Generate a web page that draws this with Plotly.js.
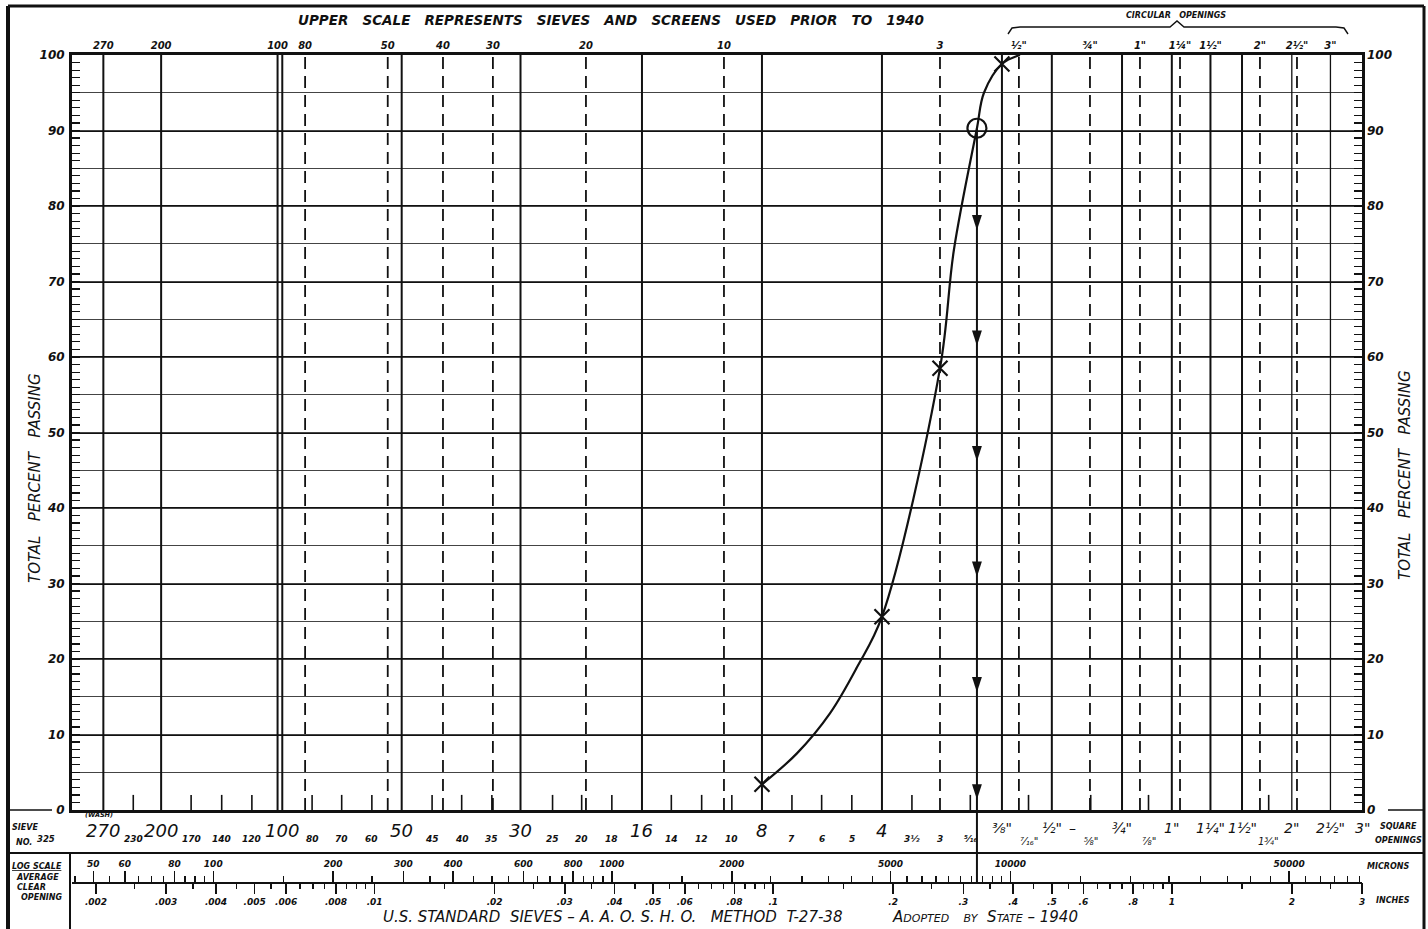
<!DOCTYPE html>
<html><head><meta charset="utf-8">
<script src="https://cdn.plot.ly/plotly-3.0.1.min.js"></script>
<style>html,body{margin:0;padding:0;background:#fff}</style>
</head><body><div id="chart" style="width:1428px;height:929px"></div>
<script>
// ================= DATA (sizes in microns, passing in %) =================
// grading curve as drawn
const curveSizeMicrons    = [2380, 2913, 3525, 4120, 4760, 6656, 7214, 8240, 8582, 9520, 10567];
const curvePercentPassing = [3.4, 7.5, 12.8, 18.9, 25.6, 58.5, 74.2, 90.3, 95.0, 98.8, 100];
// plotted test points
const crossSizes   = [2380, 4760, 6656, 9520];
const crossPassing = [3.4, 25.6, 58.5, 98.8];
const circleSizes   = [8240];
const circlePassing = [90.3];
const arrowSize   = 8240;
const arrowLevels = [76.8, 61.5, 46.2, 30.9, 15.6, 1.4, -9.4];

// sieve grid lines
const solidSieveLines  = [53, 74, 145, 149, 297, 590, 1190, 2380, 4760, 9520, 12700, 19050, 25400, 31750, 38100];
const thinSieveLines   = [50800, 63500];
const dashedSieveLines = [170, 274, 377, 503, 861, 1911, 6656, 10500, 15830, 21130, 26630, 42260, 52340];
const shortSieveTicks  = [63, 88, 105, 125, 177, 210, 250, 354, 420, 500, 710, 840, 1000, 1410, 1680, 2000,
                          2830, 3360, 4000, 5660, 7930, 11100, 15900, 22200, 44450];

// upper scale (prior to 1940) labels
const upperScaleSizes = [53, 74, 145, 170, 274, 377, 503, 861, 1911, 6656, 10500, 15830, 21130, 26630, 31750, 42260, 52340, 63500];
const upperScaleText  = ['270','200','100','80','50','40','30','20','10','3','½"','¾"','1"','1¼"','1½"','2"','2½"','3"'];

// lower scale: U.S. standard sieve numbers
const mainSieveSizes = [53, 74, 149, 297, 590, 1190, 2380, 4760];
const mainSieveText  = ['270','200','100','50','30','16','8','4'];
const minorSieveSizes = [63, 88, 105, 125, 177, 210, 250, 354, 420, 500, 710, 840, 1000, 1410, 1680, 2000, 2830, 3360, 4000, 5660, 6656, 7930];
const minorSieveText  = ['230','170','140','120','80','70','60','45','40','35','25','20','18','14','12','10','7','6','5','3½','3','⁵⁄₁₆'];
const firstSieveSize = 45, firstSieveText = '325';
// square openings
const squareMainSizes = [9520, 12700, 14300, 19050, 25400, 31750, 38100, 50800, 63500, 76200];
const squareMainText  = ['⅜"', '½"', '–', '¾"', '1"', '1¼"', '1½"', '2"', '2½"', '3"'];
const squareSmallSizes = [11100, 15900, 22200, 44450];
const squareSmallText  = ['⁷⁄₁₆"', '⅝"', '⅞"', '1¾"'];

// log scale: microns (above) and inches (below)
const micronMajor = [50, 60, 80, 100, 200, 300, 400, 600, 800, 1000, 2000, 5000, 10000, 50000];
const micronMinor = [45,55,65,70,75,85,90,95,150,250,350,450,500,550,650,700,750,850,900,950,
                     1500,2500,3000,3500,4000,4500,5500,6000,6500,7000,7500,8000,8500,9000,9500,
                     15000,20000,25000,30000,35000,40000,45000,55000,60000,65000,70000,75000];
const inchMajor = [.002,.003,.004,.005,.006,.008,.01,.02,.03,.04,.05,.06,.08,.1,.2,.3,.4,.5,.6,.8,1,2,3];
const inchMajorText = ['.002','.003','.004','.005','.006','.008','.01','.02','.03','.04','.05','.06','.08','.1','.2','.3','.4','.5','.6','.8','1','2','3'];
const inchMinor = [.0025,.0035,.0045,.0055,.0065,.007,.0075,.0085,.009,.0095,.015,.025,.035,.045,.055,.065,.07,.075,.085,.09,.095,
                   .15,.25,.35,.45,.55,.65,.7,.75,.85,.9,.95,1.5,2.5];
const MICRONS_PER_INCH = 25400;

// ================= LAYOUT GEOMETRY =================
const W = 1428, H = 929, ML = 72, MR = 66, MT = 55, MB = 0;
const PW = W - ML - MR, PH = H - MT - MB;
const PLOT_BOTTOM = 810;
const px = v => (v - ML) / PW;        // pixel x -> paper
const py = v => (H - MB - v) / PH;    // pixel y -> paper
const yDomain0 = py(PLOT_BOTTOM);
const logLineY = py(882);
const xRange = [Math.log10(76200) - PW / 398.6, Math.log10(76200)];
const F = 'DejaVu Sans, Verdana, sans-serif';
const INK = '#111';

function vlines(vals, y0, y1) {
  const x = [], y = [];
  vals.forEach(v => { x.push(v, v, null); y.push(y0, y1, null); });
  return {x, y};
}

const traces = [];
const sl = vlines(solidSieveLines, 0, 100);
traces.push({x: sl.x, y: sl.y, mode: 'lines', line: {color: INK, width: 2}, hoverinfo: 'skip'});
const tl = vlines(thinSieveLines, 0, 100);
traces.push({x: tl.x, y: tl.y, mode: 'lines', line: {color: INK, width: 1.3}, hoverinfo: 'skip'});
const dl = vlines(dashedSieveLines, 0, 100);
traces.push({x: dl.x, y: dl.y, mode: 'lines', line: {color: INK, width: 1.8, dash: '12px,7px'}, hoverinfo: 'skip'});
const st = vlines(shortSieveTicks, 0, 2);
traces.push({x: st.x, y: st.y, mode: 'lines', line: {color: INK, width: 1.6}, hoverinfo: 'skip'});
// arrow line
traces.push({x: [arrowSize, arrowSize], y: [circlePassing[0], 0], mode: 'lines', line: {color: INK, width: 2}, hoverinfo: 'skip'});
// grading curve
traces.push({x: curveSizeMicrons, y: curvePercentPassing, mode: 'lines',
  line: {color: INK, width: 2.2, shape: 'spline', smoothing: 1}, hoverinfo: 'skip'});
traces.push({x: crossSizes, y: crossPassing, mode: 'markers',
  marker: {symbol: 'x-thin-open', size: 15, color: INK, line: {color: INK, width: 2.2}}, hoverinfo: 'skip'});
traces.push({x: circleSizes, y: circlePassing, mode: 'markers',
  marker: {symbol: 'circle-open', size: 19, color: INK, line: {color: INK, width: 2.2}}, hoverinfo: 'skip'});
traces.push({x: arrowLevels.map(() => arrowSize), y: arrowLevels, mode: 'markers', cliponaxis: false,
  marker: {symbol: 'arrow', angle: 180, size: 16, color: INK, line: {width: 0}}, hoverinfo: 'skip'});
// dummy traces so the extra axes exist
[['x2','y'],['x3','y'],['x4','y'],['x','y2'],['x','y3']].forEach(([xa, ya]) =>
  traces.push({x: [], y: [], xaxis: xa, yaxis: ya, mode: 'markers', hoverinfo: 'skip', showlegend: false}));

const tickFontSmall = {family: F, size: 9, color: INK, weight: 'bold', style: 'italic'};
const yFont = {family: F, size: 12, color: INK, weight: 'bold', style: 'italic'};

const annotations = [];
function addAnn(o) { annotations.push(Object.assign({showarrow: false, xanchor: 'center', yanchor: 'middle'}, o)); }

// lower sieve labels
mainSieveSizes.forEach((s, i) => addAnn({x: Math.log10(s), xref: 'x', y: py(830), yref: 'paper', text: mainSieveText[i],
  font: {family: F, size: 18, color: INK, style: 'italic'}}));
minorSieveSizes.forEach((s, i) => addAnn({x: Math.log10(s), xref: 'x', y: py(839), yref: 'paper', text: minorSieveText[i],
  font: {family: F, size: 9, color: INK, weight: 'bold', style: 'italic'}}));
addAnn({x: Math.log10(firstSieveSize), xref: 'x', xshift: -29, y: py(839), yref: 'paper', text: firstSieveText,
  font: {family: F, size: 8.5, color: INK, weight: 'bold', style: 'italic'}});
addAnn({x: Math.log10(mainSieveSizes[0]), xref: 'x', xshift: -4, y: py(815), yref: 'paper', text: '(WASH)',
  font: {family: F, size: 6.5, color: INK, weight: 'bold', style: 'italic'}});
squareMainSizes.forEach((s, i) => addAnn({x: Math.log10(s), xref: 'x', y: py(828), yref: 'paper', text: squareMainText[i],
  font: {family: F, size: 14, color: INK, style: 'italic'}}));
squareSmallSizes.forEach((s, i) => addAnn({x: Math.log10(s), xref: 'x', y: py(841), yref: 'paper', text: squareSmallText[i],
  font: {family: F, size: 10, color: INK, style: 'italic'}}));

const small = {family: F, size: 8, color: INK, weight: 'bold', style: 'italic'};
addAnn({x: px(1398), xref: 'paper', y: py(826), yref: 'paper', text: 'SQUARE', font: small});
addAnn({x: px(1398), xref: 'paper', y: py(840), yref: 'paper', text: 'OPENINGS', font: small});
addAnn({x: px(1388), xref: 'paper', y: py(866), yref: 'paper', text: 'MICRONS', font: small});
addAnn({x: px(1393), xref: 'paper', y: py(900), yref: 'paper', text: 'INCHES', font: small});
addAnn({x: px(25), xref: 'paper', y: py(827), yref: 'paper', text: 'SIEVE', font: small});
addAnn({x: px(24), xref: 'paper', y: py(842), yref: 'paper', text: 'NO.', font: small});
addAnn({x: px(37), xref: 'paper', y: py(866), yref: 'paper', text: '<u>LOG SCALE</u>', font: small});
addAnn({x: px(37), xref: 'paper', y: py(877), yref: 'paper', text: 'AVERAGE', font: small});
addAnn({x: px(31), xref: 'paper', y: py(887), yref: 'paper', text: 'CLEAR', font: small});
addAnn({x: px(41), xref: 'paper', y: py(897), yref: 'paper', text: 'OPENING', font: small});

// titles
const NB = '\u00A0';
addAnn({x: px(611), xref: 'paper', y: py(20), yref: 'paper',
  text: ['UPPER','SCALE','REPRESENTS','SIEVES','AND','SCREENS','USED','PRIOR','TO','1940'].join(NB + NB + NB),
  font: {family: F, size: 13.5, color: INK, weight: 'bold', style: 'italic'}});
addAnn({x: px(1176), xref: 'paper', y: py(16), yref: 'paper', text: 'CIRCULAR' + NB + NB + NB + 'OPENINGS',
  font: {family: F, size: 8, color: INK, weight: 'bold', style: 'italic'}});
addAnn({x: px(612), xref: 'paper', y: py(917), yref: 'paper',
  text: 'U.S.' + NB + 'STANDARD' + NB + NB + 'SIEVES' + NB + '–' + NB + 'A.' + NB + 'A.' + NB + 'O.' + NB + 'S.' + NB + 'H.' + NB + 'O.' + NB + NB + NB + 'METHOD' + NB + NB + 'T-27-38',
  font: {family: F, size: 15, color: INK, style: 'italic'}});
addAnn({x: px(985), xref: 'paper', y: py(917), yref: 'paper',
  text: 'A<span style="font-size:11px">DOPTED</span>' + NB + NB + NB + '<span style="font-size:11px">BY</span>' + NB + NB + 'S<span style="font-size:11px">TATE</span>' + NB + '–' + NB + '1940',
  font: {family: F, size: 15, color: INK, style: 'italic'}});
const yTitleFont = {family: F, size: 15, color: INK, style: 'italic'};
const yTitle = ['TOTAL','PERCENT','PASSING'].join(NB + NB + NB);
addAnn({x: px(35), xref: 'paper', y: py(478), yref: 'paper', text: yTitle, textangle: -90, font: yTitleFont});
addAnn({x: px(1405), xref: 'paper', y: py(475), yref: 'paper', text: yTitle, textangle: -90, font: yTitleFont});

// shapes: frame and separators (decoration, in paper units)
const shapes = [];
const lineShape = (x0, y0, x1, y1, w) => shapes.push({type: 'line', xref: 'paper', yref: 'paper',
  x0: px(x0), y0: py(y0), x1: px(x1), y1: py(y1), line: {color: INK, width: w}});
lineShape(8, 6, 1424, 6, 3);
lineShape(8, 6, 8, 929, 4);
lineShape(1424, 6, 1424, 929, 3);
lineShape(8, 853, 1424, 853, 2);
lineShape(70, 853, 70, 929, 2);
lineShape(10, 810, 52, 810, 1.5);
lineShape(1388, 810, 1424, 810, 1.5);
// brace over circular openings
const bp = [[1008,34],[1012,28],[1020,27],[1170,27],[1177,21],[1184,27],[1336,27],[1344,28],[1348,34]];
shapes.push({type: 'path', xref: 'paper', yref: 'paper', line: {color: INK, width: 1.4},
  path: 'M' + bp.map(p => px(p[0]) + ',' + py(p[1])).join(' L')});

// arrow continuation below the plot (into log scale)
annotations.push({x: Math.log10(arrowSize), xref: 'x', y: logLineY, yref: 'paper', text: '', showarrow: true,
  arrowhead: 0, arrowwidth: 2, arrowcolor: INK, axref: 'pixel', ayref: 'pixel', ax: 0, ay: -(882 - PLOT_BOTTOM), standoff: 0});

const baseLogAxis = {type: 'log', range: xRange, overlaying: 'x', showgrid: false, zeroline: false, fixedrange: true};

const layout = {
  width: W, height: H,
  margin: {l: ML, r: MR, t: MT, b: MB, pad: 0},
  paper_bgcolor: '#fff', plot_bgcolor: '#fff',
  showlegend: false,
  xaxis: {type: 'log', range: xRange, domain: [0, 1], anchor: 'y', showgrid: false, zeroline: false,
    showticklabels: false, ticks: '', showline: true, linecolor: INK, linewidth: 3, mirror: true},
  xaxis2: Object.assign({}, baseLogAxis, {anchor: 'free', position: logLineY, side: 'top',
    showline: true, linecolor: INK, linewidth: 1.5,
    tickmode: 'array', tickvals: micronMajor, ticktext: micronMajor.map(String),
    ticks: 'outside', ticklen: 11, tickwidth: 1.5, tickcolor: INK, tickfont: tickFontSmall,
    minor: {tickmode: 'array', tickvals: micronMinor, ticks: 'outside', ticklen: 6, tickwidth: 1.3, tickcolor: INK, showgrid: false}}),
  xaxis3: Object.assign({}, baseLogAxis, {anchor: 'free', position: logLineY, side: 'bottom',
    showline: false,
    tickmode: 'array', tickvals: inchMajor.map(v => v * MICRONS_PER_INCH), ticktext: inchMajorText,
    ticks: 'outside', ticklen: 11, tickwidth: 1.5, tickcolor: INK, tickfont: tickFontSmall,
    minor: {tickmode: 'array', tickvals: inchMinor.map(v => v * MICRONS_PER_INCH), ticks: 'outside', ticklen: 6, tickwidth: 1.3, tickcolor: INK, showgrid: false}}),
  xaxis4: Object.assign({}, baseLogAxis, {anchor: 'y', side: 'top', showline: false, ticks: '',
    tickmode: 'array', tickvals: upperScaleSizes, ticktext: upperScaleText, ticklabelstandoff: 3,
    tickfont: {family: F, size: 10, color: INK, weight: 'bold', style: 'italic'}}),
  yaxis: {domain: [yDomain0, 1], range: [0, 100], anchor: 'x', tickmode: 'linear', tick0: 0, dtick: 10,
    ticks: 'inside', ticklen: 8, tickwidth: 1.4, tickcolor: INK, showgrid: true, gridcolor: INK, gridwidth: 2,
    zeroline: false, showline: true, linecolor: INK, linewidth: 3, mirror: 'ticks',
    minor: {dtick: 1, ticks: 'inside', ticklen: 8, tickwidth: 1.2, tickcolor: INK, showgrid: false},
    tickfont: yFont, ticklabelstandoff: 2, fixedrange: true},
  yaxis2: {domain: [yDomain0, 1], range: [0, 100], overlaying: 'y', anchor: 'x', side: 'left', tickmode: 'linear', tick0: 0, dtick: 5,
    showticklabels: false, ticks: '', showgrid: true, gridcolor: '#444', gridwidth: 1, zeroline: false, showline: false},
  yaxis3: {domain: [yDomain0, 1], range: [0, 100], overlaying: 'y', anchor: 'x', side: 'right', tickmode: 'linear', tick0: 0, dtick: 10,
    ticks: '', showgrid: false, zeroline: false, showline: false, tickfont: yFont, ticklabelstandoff: 4},
  annotations, shapes
};

Plotly.newPlot('chart', traces, layout, {staticPlot: true, displayModeBar: false});
</script></body></html>
